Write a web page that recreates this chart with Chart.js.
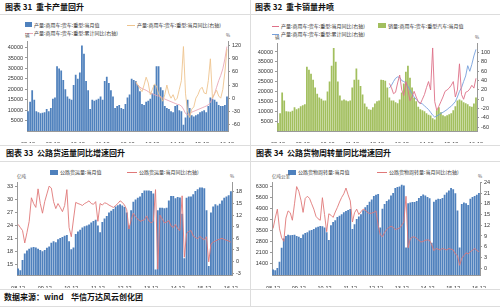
<!DOCTYPE html>
<html><head><meta charset="utf-8">
<script src="https://cdn.jsdelivr.net/npm/chart.js@4"></script>
<style>
body{margin:0;width:500px;height:307px;background:#fff;position:relative;overflow:hidden;font-family:"Noto Sans CJK SC","Noto Sans",sans-serif;}
.title{position:absolute;font-size:8px;font-weight:bold;color:#111;white-space:nowrap;line-height:10px;}
.lg{position:absolute;font-size:5px;color:#333;white-space:nowrap;line-height:6px;}
.sw{position:absolute;}
.unit{position:absolute;font-size:4.5px;color:#555;line-height:5px;}
.hl{position:absolute;left:0;width:500px;height:1px;background:#ddd;}
.vl{position:absolute;width:1px;background:#ddd;}
.box{position:absolute;}
</style></head><body>

<div class="hl" style="top:14px"></div>
<div class="hl" style="top:145px"></div>
<div class="hl" style="top:161px"></div>
<div class="hl" style="top:289px"></div>
<div class="hl" style="top:306px"></div>
<div class="vl" style="left:250px;top:0;height:307px"></div>

<div class="title" style="left:5px;top:2px">图表 31&nbsp;&nbsp;重卡产量回升</div>
<div class="title" style="left:255px;top:2px">图表 32&nbsp;&nbsp;重卡销量井喷</div>
<div class="title" style="left:6px;top:148px">图表 33&nbsp;&nbsp;公路货运量同比增速回升</div>
<div class="title" style="left:256px;top:148px">图表 34&nbsp;&nbsp;公路货物周转量同比增速回升</div>
<div class="title" style="left:4px;top:292px">数据来源：wind&nbsp;&nbsp;&nbsp;&nbsp;华信万达风云创化团</div>

<!-- legends -->
<div class="sw" style="left:25px;top:22px;width:7px;height:5px;background:#4f81bd"></div>
<div class="lg" style="left:34px;top:22px">产量:商用车:货车:重型:当月值</div>
<div class="sw" style="left:127px;top:25px;width:8px;height:1px;background:#eec48e"></div>
<div class="lg" style="left:137px;top:22px">产量:商用车:货车:重型:当月同比(右轴)</div>
<div class="sw" style="left:25px;top:33px;width:8px;height:1px;background:#e9a6b4"></div>
<div class="lg" style="left:34px;top:30px">产量:商用车:货车:重型:累计同比(右轴)</div>

<div class="sw" style="left:272px;top:26px;width:7px;height:1px;background:#de7088"></div>
<div class="lg" style="left:281px;top:23px">产量:商用车:货车:重型:当月同比(右轴)</div>
<div class="sw" style="left:378px;top:23px;width:8px;height:5px;background:#a2bf5e"></div>
<div class="lg" style="left:388px;top:23px">销量:商用车:货车:重型汽车:当月值</div>
<div class="sw" style="left:272px;top:34px;width:7px;height:1px;background:#76a0dc"></div>
<div class="lg" style="left:281px;top:31px">产量:商用车:货车:重型:累计同比(右轴)</div>

<div class="sw" style="left:50px;top:170px;width:8px;height:5px;background:#4f81bd"></div>
<div class="lg" style="left:60px;top:169px">公路货运量:当月值</div>
<div class="sw" style="left:127px;top:172px;width:10px;height:1px;background:#e07878"></div>
<div class="lg" style="left:139px;top:169px">公路货运量:当月同比(右轴)</div>

<div class="sw" style="left:288px;top:170px;width:8px;height:5px;background:#4f81bd"></div>
<div class="lg" style="left:298px;top:169px">公路货物周转量:当月值</div>
<div class="sw" style="left:377px;top:172px;width:10px;height:1px;background:#e07878"></div>
<div class="lg" style="left:389px;top:169px">公路货物周转量:当月同比(右轴)</div>

<div class="unit" style="left:25px;top:33px">辆</div>
<div class="unit" style="left:226px;top:33px">%</div>
<div class="unit" style="left:275px;top:35px">辆</div>
<div class="unit" style="left:475px;top:35px">%</div>
<div class="unit" style="left:17px;top:174px">亿吨</div>
<div class="unit" style="left:230px;top:174px">%</div>
<div class="unit" style="left:272px;top:174px">亿吨公里</div>
<div class="unit" style="left:478px;top:174px">%</div>

<div class="box" style="left:0;top:36px;width:249px;height:107px"><canvas id="c31"></canvas></div>
<div class="box" style="left:250px;top:38px;width:250px;height:105px"><canvas id="c32"></canvas></div>
<div class="box" style="left:0;top:177px;width:249px;height:111px"><canvas id="c33"></canvas></div>
<div class="box" style="left:250px;top:177px;width:250px;height:111px"><canvas id="c34"></canvas></div>

<script>
// months 08-12 .. 16-12
const yearTags = ['08', '09', '10', '11', '12', '13', '14', '15', '16'];
const months = [];
yearTags.forEach((y, k) => {
  if (k === 0) { months.push(y + '-12'); return; }
  for (let m = 1; m <= 12; m++) months.push(y + '-' + String(m).padStart(2, '0'));
});

// 图表31 重卡产量
const prod31 = [9500,
  14000,19500,15000,9500,9000,8500,8800,9000,10500,9500,11000,15500,
  16000,31000,30000,29000,24500,20000,16500,15500,15000,22000,27000,25000,
  28000,41000,37000,24000,19500,10500,15000,14500,15000,15500,16500,15000,
  24000,26000,23000,19500,16500,11000,12000,12500,11000,10500,13000,16000,
  17500,25000,24500,24000,22000,19000,13000,12500,14000,14500,15500,18000,
  22000,31000,31000,21000,19500,12000,11000,10500,9500,9000,12000,12500,
  10000,9500,3000,6500,15000,11000,7500,7000,7500,8000,9000,9500,
  10000,9000,12000,16000,15500,15000,14000,12500,12000,12000,12500,16500];
// from 13-04 on
const mom31 = [38,30,22,15,30,48,35,8,20,32,28,10,2,-7,8,30,10,0,8,-5,0,20,40,118,10,
  -30,-44,-25,-20,0,8,20,25,12,10,40,90,0,10,18,5,0,20,60,112];
const cum31 = [35,30,25,22,20,18,15,12,10,8,6,5,3,0,-2,-4,-6,-8,-10,-12,-14,-15,-18,-25,-35,
  -38,-36,-32,-30,-28,-26,-24,-22,-20,-18,-15,-10,0,10,25,40,52,67,90,118];

// 图表32 重卡销量
const sales32 = [4000,
  9000,19500,15500,10000,9900,9800,10200,12000,11000,11500,12500,13000,
  13500,32500,31000,29000,26000,22000,18800,17000,16300,15500,15500,20000,
  25000,33000,42000,35000,25000,18000,15500,16000,15500,15000,15500,22000,
  26000,31700,26000,22800,18500,13900,12300,11000,10700,12000,13900,15000,
  15500,26000,25800,25500,22000,17000,15500,15500,14500,14000,16000,19500,
  24000,30000,33000,27000,22000,17000,15000,12300,11000,10500,10000,9000,
  8200,7800,6500,5800,10500,12000,9500,8000,7500,8000,8500,9000,
  10500,12500,15500,16000,15500,14500,14000,13500,12500,12300,13900,17000];
// from 13-06 on
const mom32 = [34,25,12,15,35,52,20,8,38,20,-3,5,17,5,-5,-10,0,10,25,38,20,110,-5,-24,-15,
  -5,5,17,20,24,30,38,5,20,76,10,0,15,17,22,30,24,45];
const cum32 = [24,30,38,45,48,47,40,38,35,28,20,12,5,0,-5,-8,-10,-14,-18,-22,-28,-34,-38,-36,-33,
  -30,-28,-25,-22,-18,-15,-10,-5,5,17,25,38,50,72,60,75,93,107];

// 图表33 公路货运量 (亿吨) 及同比
const freight33 = [14.0,
  13.6,16.0,17.5,18.2,18.6,18.9,19.0,18.9,18.6,18.3,18.0,18.3,
  18.8,19.1,20.0,20.3,20.1,20.8,21.1,21.3,21.6,21.8,20.3,18.5,
  18.9,22.0,22.6,23.0,23.5,23.8,24.0,24.2,24.7,25.0,25.3,24.0,
  22.4,24.8,25.6,26.2,27.0,27.4,27.8,28.4,28.7,28.9,28.6,28.3,
  27.0,24.0,27.5,29.5,30.0,30.4,30.7,31.5,32.1,32.1,32.1,32.0,
  31.4,13.8,27.5,28.1,28.1,28.0,28.1,29.8,30.8,30.8,30.3,30.6,
  30.5,26.7,16.4,30.4,30.7,30.7,31.2,32.0,32.4,32.8,32.8,32.6,
  27.5,14.6,27.0,28.4,28.9,28.6,29.0,29.8,30.4,30.7,31.0,31.9];
const yoy33 = [9.6,
  8.8,8.0,4.8,7.5,10.4,16.5,15.0,14.0,18.8,15.0,12.5,15.5,
  17.5,19.5,19.0,15.5,13.7,15.0,14.0,12.9,14.5,18.6,8.8,6.4,
  11.0,15.3,15.0,14.8,14.5,15.0,15.3,15.7,15.0,14.8,15.5,10.4,
  15.0,14.6,15.2,15.0,14.6,14.3,14.0,14.5,15.0,15.7,15.3,14.6,
  13.4,8.4,10.8,12.5,11.5,11.0,10.4,10.6,10.8,11.8,10.5,10.0,
  10.4,18.6,-2.0,12.0,11.0,10.0,10.2,10.6,9.2,8.8,9.6,8.5,
  8.0,17.0,1.1,7.2,7.8,8.0,6.6,6.2,5.9,6.5,6.0,5.6,
  6.4,-0.1,4.5,5.0,5.3,5.6,5.8,6.0,5.7,5.5,5.3,5.0];

// 图表34 公路货物周转量 (亿吨公里) 及同比
const turnover34 = [1000,
  950,1100,1500,2400,3000,3150,3240,3200,3220,3240,3150,3100,
  3030,3250,3340,3400,3500,3545,3600,3700,3750,3800,3780,3700,
  3400,2900,3850,4050,4170,4370,4450,4550,4680,4750,4820,4890,
  3600,3900,4250,4400,4550,4800,5000,5150,5350,5500,5720,5800,
  5850,3700,4900,5200,5400,5500,5750,5920,6230,6300,6330,6440,
  6400,2410,5250,5300,5330,5330,5400,5600,5720,5820,5750,5650,
  5580,2720,5350,5480,5550,5530,5600,5800,5950,6080,6230,6150,
  5900,4790,2410,5200,5300,5250,5150,5550,5650,5720,5800,5920];
const yoy34 = [11.1,
  14.0,16.5,11.0,8.5,7.5,14.0,16.0,15.5,13.4,18.0,22.8,21.5,
  19.0,15.6,19.5,20.1,19.5,18.0,16.5,14.5,13.8,13.4,19.7,15.0,
  10.2,15.2,14.8,14.2,15.7,17.0,18.5,19.8,20.8,22.4,20.5,18.8,
  12.9,15.5,16.5,15.0,15.8,16.5,16.2,15.6,15.3,15.4,15.6,16.0,
  12.0,9.3,8.8,10.0,10.8,11.4,11.7,11.4,10.8,11.0,11.2,12.0,
  13.0,20.1,5.7,8.3,8.7,8.7,8.3,7.8,7.3,7.5,7.8,7.9,
  7.8,6.5,4.9,5.5,5.3,5.1,5.5,5.3,5.1,5.5,5.3,5.1,
  4.0,3.5,0.8,2.8,3.5,4.3,4.0,4.6,5.0,5.5,5.0,4.6];

// axis tick lists
const left31 = [5000,10000,15000,20000,25000,30000,35000,40000];
const right31 = [-60,-30,0,30,60,90,120];
const left32 = [5000,10000,15000,20000,25000,30000,35000,40000];
const right32 = [-60,-40,-20,0,20,40,60,80,100];
const left33 = [15,18,21,24,27,30,33];
const right33 = [-3,0,3,6,9,12,15,18];
const left34 = [1400,2100,2800,3500,4200,4900,5600,6300];
const right34 = [0,3,6,9,12,15,18,21,24];

function lead(n, arr) { return new Array(n).fill(null).concat(arr); }

function yAxis(pos, min, max, ticks, w) {
  return {
    position: pos, min, max,
    afterBuildTicks: ax => { ax.ticks = ticks.map(v => ({ value: v })); },
    afterFit: s => { s.width = w; },
    ticks: { font: { size: 5.5 }, color: '#333', padding: 2, callback: v => String(v) },
    grid: { drawOnChartArea: false, drawTicks: true, tickLength: 2, color: '#999' },
    border: { display: true, color: '#999' }
  };
}

function build(id, o) {
  new Chart(document.getElementById(id), {
    data: { labels: months, datasets: o.sets },
    options: {
      responsive: true, maintainAspectRatio: false, animation: false, devicePixelRatio: 1,
      layout: { padding: { top: 2, left: 0, right: 0, bottom: 0 } },
      plugins: { legend: { display: false }, tooltip: { enabled: false } },
      scales: {
        x: {
          afterFit: s => { s.height = o.xh; },
          ticks: { autoSkip: false, maxRotation: 0, font: { size: 5.5 }, color: '#333', padding: 2,
            callback: v => (v % 12 === 0 ? months[v] : '') },
          grid: { display: false },
          border: { display: true, color: '#999' }
        },
        yL: yAxis('left', o.l[0], o.l[1], o.l[2], o.lw),
        yR: yAxis('right', o.r[0], o.r[1], o.r[2], o.rw)
      }
    }
  });
}

function bar(label, data, color) {
  return { type: 'bar', label, data, yAxisID: 'yL', backgroundColor: color, order: 2,
    barPercentage: 0.85, categoryPercentage: 1 };
}
function line(label, data, color) {
  return { type: 'line', label, data, yAxisID: 'yR', borderColor: color, borderWidth: 0.9,
    pointRadius: 0, tension: 0, order: 1 };
}

build('c31', {
  xh: 12, lw: 27, rw: 21,
  l: [0, 43000, left31], r: [-75, 130, right31],
  sets: [
    bar('产量:商用车:货车:重型:当月值', prod31, '#4f81bd'),
    line('产量:商用车:货车:重型:当月同比(右轴)', lead(52, mom31), '#eec48e'),
    line('产量:商用车:货车:重型:累计同比(右轴)', lead(52, cum31), '#e9a6b4')
  ]
});

build('c32', {
  xh: 12, lw: 27, rw: 23,
  l: [0, 44400, left32], r: [-68, 120, right32],
  sets: [
    bar('销量:商用车:货车:重型汽车:当月值', sales32, '#a2bf5e'),
    line('产量:商用车:货车:重型:当月同比(右轴)', lead(54, mom32), '#de7088'),
    line('产量:商用车:货车:重型:累计同比(右轴)', lead(54, cum32), '#76a0dc')
  ]
});

build('c33', {
  xh: 13, lw: 17, rw: 17,
  l: [12.5, 34, left33], r: [-3.5, 20.5, right33],
  sets: [
    bar('公路货运量:当月值', freight33, '#4f81bd'),
    line('公路货运量:当月同比(右轴)', yoy33, '#e07878')
  ]
});

build('c34', {
  xh: 13, lw: 22, rw: 20,
  l: [650, 6600, left34], r: [-1.9, 24, right34],
  sets: [
    bar('公路货物周转量:当月值', turnover34, '#4f81bd'),
    line('公路货物周转量:当月同比(右轴)', yoy34, '#e07878')
  ]
});
</script>
</body></html>
